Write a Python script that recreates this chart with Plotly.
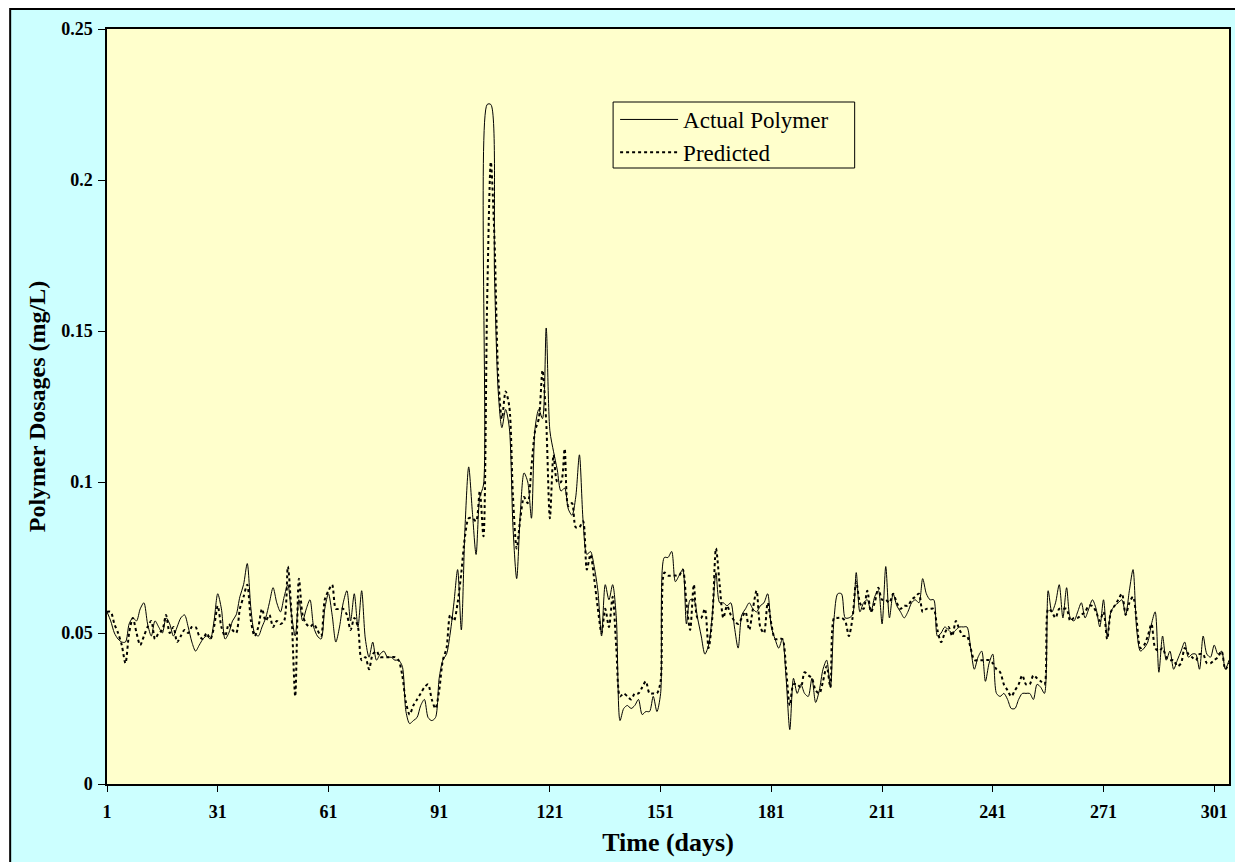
import plotly.graph_objects as go

days = list(range(1, 306))

actual_polymer = [
    0.057,0.054,0.050,0.048,0.047,0.047,0.053,0.055,0.054,0.058,
    0.060,0.053,0.049,0.054,0.052,0.050,0.055,0.053,0.049,0.052,
    0.055,0.056,0.052,0.047,0.044,0.046,0.048,0.049,0.048,0.054,
    0.063,0.058,0.048,0.050,0.054,0.056,0.062,0.066,0.073,0.058,
    0.050,0.049,0.052,0.055,0.060,0.065,0.060,0.057,0.062,0.066,
    0.056,0.049,0.061,0.054,0.058,0.061,0.052,0.049,0.048,0.058,
    0.063,0.056,0.047,0.052,0.060,0.064,0.054,0.063,0.052,0.064,
    0.048,0.042,0.047,0.041,0.043,0.044,0.042,0.042,0.041,0.041,
    0.039,0.024,0.020,0.021,0.022,0.026,0.028,0.022,0.021,0.022,
    0.035,0.041,0.043,0.050,0.060,0.071,0.051,0.085,0.105,0.090,
    0.076,0.095,0.099,0.225,0.225,0.168,0.130,0.118,0.124,0.118,
    0.085,0.068,0.090,0.103,0.100,0.088,0.118,0.124,0.121,0.151,
    0.117,0.110,0.104,0.097,0.098,0.091,0.089,0.095,0.109,0.087,
    0.076,0.077,0.072,0.064,0.049,0.066,0.061,0.066,0.055,0.021,
    0.025,0.026,0.025,0.026,0.028,0.023,0.024,0.024,0.029,0.024,
    0.030,0.075,0.075,0.077,0.067,0.069,0.071,0.053,0.061,0.061,
    0.055,0.049,0.043,0.046,0.056,0.070,0.060,0.060,0.059,0.060,
    0.052,0.045,0.056,0.058,0.060,0.058,0.057,0.059,0.060,0.063,
    0.052,0.048,0.045,0.048,0.035,0.018,0.035,0.030,0.033,0.030,
    0.029,0.035,0.027,0.031,0.038,0.041,0.032,0.055,0.063,0.063,
    0.055,0.055,0.056,0.070,0.057,0.060,0.061,0.057,0.062,0.064,
    0.053,0.072,0.055,0.063,0.059,0.057,0.055,0.057,0.060,0.061,
    0.060,0.068,0.063,0.061,0.061,0.049,0.050,0.052,0.051,0.050,
    0.051,0.052,0.052,0.052,0.045,0.038,0.042,0.044,0.034,0.040,
    0.043,0.030,0.029,0.030,0.028,0.025,0.025,0.028,0.030,0.030,
    0.030,0.028,0.033,0.032,0.030,0.064,0.057,0.060,0.066,0.055,
    0.065,0.055,0.054,0.057,0.060,0.055,0.058,0.061,0.058,0.052,
    0.061,0.049,0.057,0.059,0.060,0.061,0.056,0.064,0.071,0.051,
    0.044,0.045,0.047,0.053,0.057,0.037,0.049,0.041,0.044,0.038,
    0.041,0.044,0.047,0.042,0.043,0.043,0.038,0.049,0.043,0.042,
    0.046,0.043,0.044,0.038,0.041,
]

predicted = [
    0.057,0.057,0.053,0.050,0.046,0.040,0.050,0.055,0.050,0.046,
    0.049,0.052,0.054,0.048,0.050,0.051,0.056,0.050,0.052,0.047,
    0.049,0.051,0.050,0.052,0.052,0.049,0.048,0.050,0.048,0.052,
    0.059,0.052,0.049,0.053,0.051,0.050,0.058,0.062,0.066,0.054,
    0.049,0.052,0.058,0.054,0.056,0.052,0.054,0.053,0.054,0.072,
    0.056,0.029,0.068,0.056,0.053,0.052,0.053,0.051,0.049,0.061,
    0.064,0.066,0.058,0.058,0.058,0.056,0.051,0.055,0.052,0.041,
    0.042,0.038,0.043,0.044,0.042,0.042,0.042,0.042,0.042,0.041,
    0.036,0.027,0.023,0.026,0.028,0.030,0.032,0.033,0.028,0.025,
    0.031,0.041,0.045,0.056,0.054,0.060,0.070,0.082,0.088,0.088,
    0.087,0.097,0.082,0.160,0.206,0.180,0.135,0.121,0.130,0.125,
    0.095,0.078,0.088,0.095,0.093,0.105,0.117,0.121,0.137,0.120,
    0.088,0.109,0.100,0.100,0.111,0.092,0.093,0.085,0.085,0.087,
    0.071,0.076,0.068,0.058,0.050,0.058,0.052,0.062,0.045,0.029,
    0.030,0.029,0.028,0.030,0.030,0.032,0.034,0.030,0.030,0.030,
    0.034,0.070,0.069,0.069,0.069,0.069,0.071,0.060,0.051,0.066,
    0.055,0.055,0.058,0.045,0.055,0.078,0.066,0.055,0.059,0.056,
    0.054,0.053,0.055,0.057,0.051,0.058,0.064,0.052,0.050,0.060,
    0.053,0.048,0.048,0.048,0.038,0.026,0.033,0.033,0.032,0.037,
    0.036,0.035,0.031,0.030,0.034,0.039,0.032,0.055,0.055,0.055,
    0.054,0.049,0.055,0.067,0.060,0.058,0.064,0.057,0.060,0.065,
    0.061,0.061,0.060,0.063,0.060,0.058,0.059,0.059,0.061,0.062,
    0.063,0.057,0.058,0.058,0.058,0.051,0.047,0.050,0.052,0.049,
    0.054,0.051,0.049,0.049,0.045,0.041,0.041,0.041,0.041,0.041,
    0.040,0.038,0.037,0.033,0.031,0.029,0.031,0.033,0.036,0.033,
    0.033,0.036,0.035,0.034,0.033,0.058,0.057,0.055,0.058,0.058,
    0.058,0.054,0.055,0.055,0.056,0.057,0.059,0.059,0.057,0.054,
    0.057,0.048,0.057,0.059,0.061,0.063,0.056,0.060,0.062,0.054,
    0.045,0.046,0.049,0.053,0.045,0.044,0.045,0.042,0.041,0.041,
    0.039,0.040,0.045,0.043,0.042,0.041,0.043,0.043,0.040,0.040,
    0.041,0.042,0.044,0.038,0.040,
]

x_ticks = [1, 31, 61, 91, 121, 151, 181, 211, 241, 271, 301]
y_ticks = [0, 0.05, 0.1, 0.15, 0.2, 0.25]
y_tick_text = ["0", "0.05", "0.1", "0.15", "0.2", "0.25"]

SERIF = "Liberation Serif, Times New Roman, serif"

fig = go.Figure()
fig.add_trace(go.Scatter(
    x=days, y=actual_polymer, name="Actual Polymer", mode="lines",
    line=dict(color="black", width=1, shape="spline", smoothing=0.8),
))
fig.add_trace(go.Scatter(
    x=days, y=predicted, name="Predicted", mode="lines",
    line=dict(color="black", width=2, dash="dot", shape="spline", smoothing=0.8),
))

W, H = 1235, 862
L, R, T, B = 107, 4, 29, 78
pw, ph = W - L - R, H - T - B

def px_x(p):
    return (p - L) / pw

def px_y(p):
    return (H - B - p) / ph

# outer chart area (cyan with black border)
fig.add_shape(type="rect", xref="paper", yref="paper", layer="below",
              x0=px_x(10), x1=px_x(1300), y0=px_y(900), y1=px_y(9),
              fillcolor="#CCFFFF", line=dict(color="black", width=2))
# plot area (light yellow)
fig.add_shape(type="rect", xref="paper", yref="paper", layer="below",
              x0=0, x1=1, y0=0, y1=1,
              fillcolor="#FFFFCC", line=dict(width=0))
# legend frame
fig.add_shape(type="rect", xref="paper", yref="paper", layer="above",
              x0=px_x(614), x1=px_x(856), y0=px_y(168), y1=px_y(102),
              fillcolor="rgba(0,0,0,0)", line=dict(color="black", width=1))

fig.update_layout(
    width=W, height=H,
    margin=dict(l=L, r=R, t=T, b=B, pad=0),
    paper_bgcolor="white",
    plot_bgcolor="rgba(0,0,0,0)",
    font=dict(family=SERIF, color="black"),
    showlegend=True,
    legend=dict(
        x=px_x(616), y=px_y(98), xanchor="left", yanchor="top",
        bgcolor="rgba(0,0,0,0)", borderwidth=0,
        font=dict(family=SERIF, size=23, color="black"),
        tracegroupgap=0, itemwidth=58,
    ),
    xaxis=dict(
        range=[1, 305], tickmode="array", tickvals=x_ticks,
        ticktext=["<b>%d</b>" % v for v in x_ticks],
        showgrid=False, zeroline=False, showline=True, linecolor="black",
        linewidth=1.5, mirror=True, ticks="outside", ticklen=6,
        tickcolor="black", tickfont=dict(family=SERIF, size=18),
        ticklabelstandoff=5,
        title=dict(text="<b>Time (days)</b>", font=dict(family=SERIF, size=26),
                   standoff=11),
    ),
    yaxis=dict(
        range=[0, 0.25], tickmode="array", tickvals=y_ticks,
        ticktext=["<b>%s</b>" % t for t in y_tick_text],
        showgrid=False, zeroline=False, showline=True, linecolor="black",
        linewidth=1.5, mirror=True, ticks="outside", ticklen=7,
        tickcolor="black", tickfont=dict(family=SERIF, size=18),
        ticklabelstandoff=2,
        title=dict(text="<b>Polymer Dosages (mg/L)</b>",
                   font=dict(family=SERIF, size=24), standoff=9),
    ),
)

fig.write_html(
    "out.html",
    config={"displayModeBar": False},
    post_script="document.body.style.margin='0px';"
                "document.documentElement.style.overflow='hidden';",
)
